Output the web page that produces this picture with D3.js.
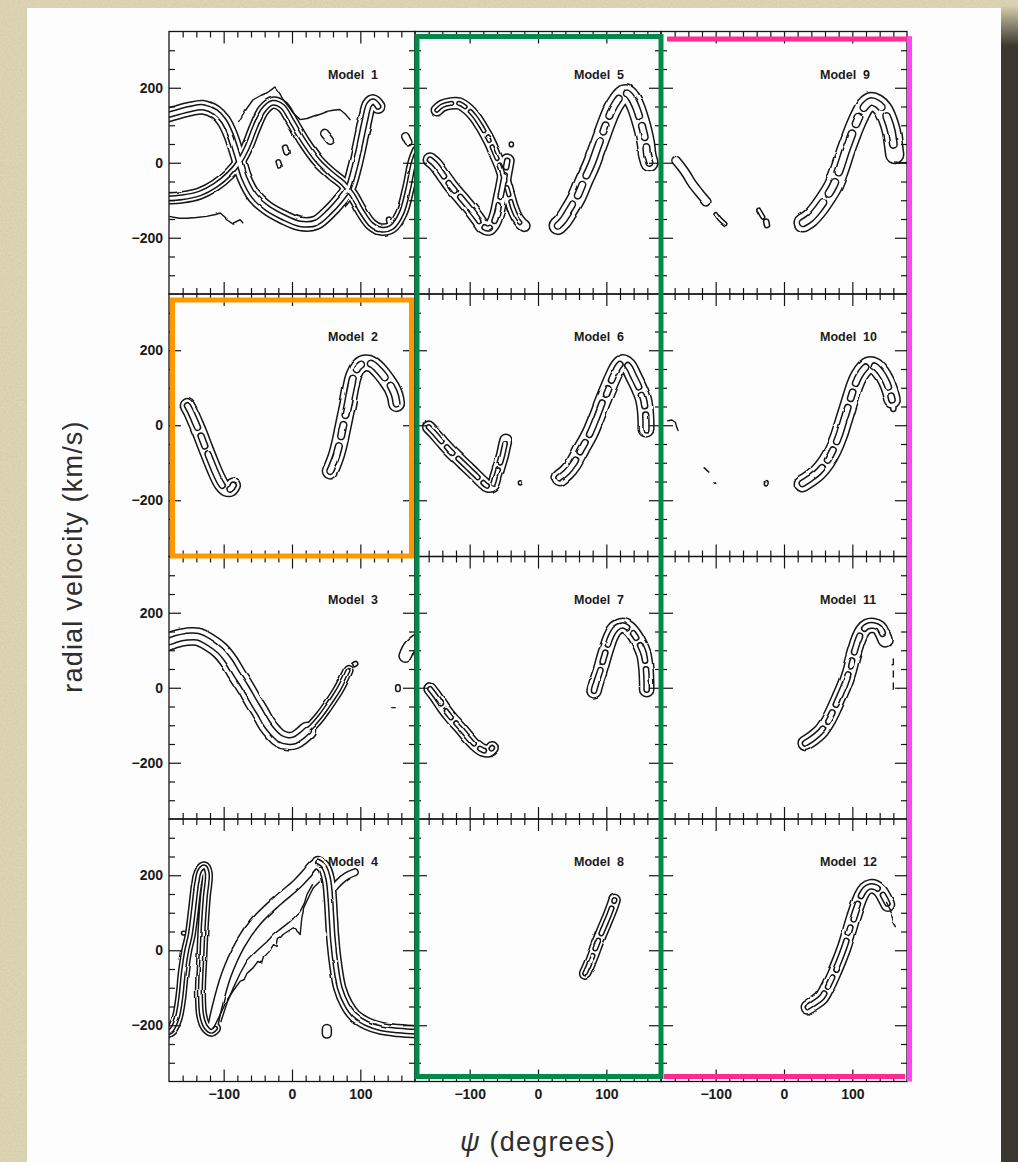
<!DOCTYPE html>
<html>
<head>
<meta charset="utf-8">
<script src="https://cdn.jsdelivr.net/npm/d3@7"></script>
<style>
  html, body { margin: 0; padding: 0; background: #ddd5b3; }
  svg { display: block; }
  text { font-family: "Liberation Sans", Arial, Helvetica, sans-serif; }
</style>
</head>
<body>
<svg id="fig" width="1018" height="1162"></svg>
<script>
// ---- axes ----
const psiDomain = [-180, 180];
const velDomain = [-350, 350];
const psiMajor = [-100, 0, 100];
const psiMinor = [-160, -140, -120, -80, -60, -40, -20, 20, 40, 60, 80, 120, 140, 160];
const velMajor = [-200, 0, 200];
const velMinor = [-300, -250, -150, -100, -50, 50, 100, 150, 250, 300];

const modelNames = ["Model 1", "Model 2", "Model 3", "Model 4",
                    "Model 5", "Model 6", "Model 7", "Model 8",
                    "Model 9", "Model 10", "Model 11", "Model 12"];

// ---- contour ridges: t = velocity width of the outer contour, i = width of the inner contour (km/s),
//      p = ridge line as [psi (deg), radial velocity (km/s)] ----
const ridges1 = [
  { t: 36, i: 14, p: [[-184,126],[-165,136],[-150,143],[-130,148],[-112,135],[-100,112],[-90,75],[-80,20],[-70,-40],[-55,-90],[-37,-120],[-13,-145],[12,-163],[35,-160],[55,-130],[70,-100],[82,-70],[92,-10],[100,55],[107,115],[113,155],[119,163],[126,150]] },
  { t: 30, i: 12, p: [[-184,-95],[-160,-92],[-135,-82],[-112,-60],[-92,-30],[-78,0],[-66,40],[-54,95],[-42,140],[-28,160],[-14,150],[0,110],[18,55],[38,5],[58,-30],[75,-55],[88,-85],[102,-130],[116,-165],[130,-178],[146,-172],[160,-135],[170,-70],[178,0],[184,30]] },
  { t: 14, i: 0, p: [[-10,40],[-8,28]] },
  { t: 12, i: 0, p: [[-20,2],[-18,-8]] },
  { t: 22, i: 0, p: [[48,78],[56,60]] },
  { t: 14, i: 0, p: [[142,-152],[144,-165]] },
  { t: 20, i: 0, p: [[166,70],[170,55]] }
];
const lines1 = [
  [[-78,110],[-68,140],[-57,168],[-45,180],[-37,186],[-30,195],[-25,202],[-18,185],[-13,168],[-5,150],[2,132],[12,115],[22,118],[31,124],[41,130],[51,137],[60,140],[70,142],[78,130],[85,115]],
  [[-180,-143],[-165,-148],[-154,-148],[-140,-146],[-125,-143],[-112,-138],[-105,-134],[-95,-150],[-86,-161],[-76,-152],[-72,-160]]
];

const ridges2 = [
  { t: 38, i: 16, p: [[-153,52],[-148,35],[-142,10],[-135,-20],[-127,-58],[-119,-95],[-111,-130],[-103,-158],[-96,-170],[-90,-170],[-86,-160]] },
  { t: 42, i: 18, p: [[56,-122],[60,-105],[65,-80],[70,-45],[74,-10],[78,25],[82,60],[86,100],[90,130],[97,155],[106,166],[117,163],[128,145],[138,122],[146,100],[151,78],[153,58]] }
];
const lines2 = [];

const ridges3 = [
  { t: 46, i: 18, p: [[-186,118],[-170,130],[-154,136],[-138,136],[-122,122],[-105,99],[-92,70],[-81,37],[-68,0],[-57,-35],[-46,-68],[-37,-97],[-27,-120],[-18,-135],[-6,-142],[4,-140],[14,-128],[22,-115]] },
  { t: 26, i: 10, p: [[18,-120],[30,-100],[41,-77],[51,-52],[60,-28],[68,-5],[75,19],[82,46]] },
  { t: 12, i: 0, p: [[91,62],[93,64]] },
  { t: 12, i: 0, p: [[155,2],[155,-4]] },
  { t: 34, i: 0, p: [[166,85],[172,108],[182,125]] }
];
const lines3 = [[[146,-53],[151,-53]]];

const ridges4 = [
  { t: 26, i: 10, p: [[-182,-220],[-176,-212],[-168,-180],[-163,-130],[-159,-60],[-154,0],[-149,40],[-144,110],[-140,170],[-135,212],[-128,222],[-124,205],[-127,140],[-130,60],[-132,-20],[-134,-110],[-132,-175],[-126,-205],[-118,-216],[-112,-208]] },
  { t: 26, i: 0, p: [[-116,-205],[-110,-154],[-96,-65],[-76,15],[-52,78],[-22,131],[7,176],[22,205],[33,228],[42,232]] },
  { t: 32, i: 12, p: [[38,234],[47,222],[53,190],[56,140],[58,80],[60,24],[64,-40],[70,-101],[80,-145],[92,-175],[110,-196],[130,-208],[155,-214],[185,-218]] },
  { t: 18, i: 0, p: [[58,158],[68,180],[80,198],[92,208]] },
  { t: 24, i: 0, p: [[51,-222],[51,-210]] },
  { t: 10, i: 0, p: [[-159,46],[-158,46]] }
];
const lines4 = [
  [[-115,-208],[-106,-175],[-96,-136],[-86,-108],[-76,-83],[-70,-78],[-66,-62],[-57,-47],[-50,-30],[-44,-34],[-42,-20],[-34,-5],[-27,15],[-22,10],[-20,28],[-13,42],[-5,52],[2,60],[8,50],[12,42],[14,80],[17,113],[24,140],[31,166],[41,184]],
  [[-104,-190],[-95,-140],[-86,-101],[-76,-62],[-66,-29],[-56,-10],[-47,6],[-37,22],[-27,42],[-18,55],[-8,69],[2,85],[12,104],[18,125],[22,149],[30,175]]
];

const ridges5 = [
  { t: 30, i: 10, p: [[-148,140],[-140,152],[-128,158],[-115,158],[-102,142],[-92,122],[-84,100],[-76,75],[-69,50],[-62,20],[-55,-10],[-50,-38],[-46,-63],[-41,-95],[-37,-120],[-31,-145],[-25,-160],[-20,-168]] },
  { t: 36, i: 14, p: [[-158,8],[-150,-5],[-138,-35],[-127,-63],[-112,-95],[-98,-126],[-88,-150],[-80,-170],[-72,-175],[-65,-160],[-60,-135],[-56,-100],[-52,-65],[-48,-25],[-45,5]] },
  { t: 11, i: 0, p: [[-39,48],[-39,50]] },
  { t: 46, i: 18, p: [[29,-168],[36,-155],[45,-130],[57,-92],[68,-45],[78,-5],[86,35],[93,70],[100,105],[108,140],[116,165],[124,182],[130,185],[137,172],[143,150],[149,118],[154,85],[158,50],[160,20],[163,0]] }
];
const lines5 = [];

const ridges6 = [
  { t: 32, i: 12, p: [[-160,-5],[-152,-20],[-140,-45],[-129,-67],[-116,-90],[-104,-111],[-92,-132],[-82,-150],[-74,-162],[-66,-160],[-61,-135],[-56,-105],[-52,-80],[-49,-55],[-47,-40]] },
  { t: 10, i: 0, p: [[-26,-154],[-26,-153]] },
  { t: 42, i: 16, p: [[32,-140],[42,-125],[52,-102],[64,-62],[76,-22],[86,22],[95,65],[104,105],[112,138],[118,158],[124,167],[132,158],[140,130],[148,100],[154,72],[157,40],[158,10],[158,-10]] }
];
const lines6 = [];

const ridges7 = [
  { t: 32, i: 12, p: [[-158,-3],[-150,-22],[-139,-52],[-127,-80],[-114,-106],[-102,-132],[-90,-155],[-80,-167],[-72,-168],[-67,-160]] },
  { t: 38, i: 14, p: [[82,-8],[86,18],[91,45],[96,78],[101,108],[107,138],[114,158],[123,166],[133,158],[142,138],[149,115],[155,88],[158,50],[159,15],[159,-5]] }
];
const lines7 = [];

const ridges8 = [
  { t: 30, i: 12, p: [[69,-62],[74,-42],[80,-14],[86,15],[92,42],[98,68],[104,94],[109,118],[112,134]] }
];
const lines8 = [];

const ridges9 = [
  { t: 22, i: 0, p: [[-158,6],[-150,-12],[-143,-30],[-135,-54],[-124,-80],[-113,-104]] },
  { t: 9, i: 0, p: [[-100,-135],[-94,-150],[-86,-163]] },
  { t: 10, i: 0, p: [[-37,-126],[-31,-145]] },
  { t: 14, i: 0, p: [[-26,-157],[-25,-166]] },
  { t: 48, i: 20, p: [[28,-160],[38,-148],[49,-126],[61,-95],[72,-62],[82,-15],[90,30],[97,65],[104,98],[112,130],[119,152],[127,163],[136,158],[145,142],[152,115],[157,85],[160,50],[162,22]] }
];
const lines9 = [[[162,2],[170,0],[180,0]]];

const ridges10 = [
  { t: 10, i: 0, p: [[-26,-154],[-26,-152]] },
  { t: 44, i: 17, p: [[27,-155],[38,-142],[50,-125],[62,-98],[72,-65],[80,-30],[87,10],[93,45],[99,80],[104,108],[110,132],[117,150],[124,160],[133,157],[142,140],[149,118],[154,95],[158,68]] },
  { t: 14, i: 0, p: [[160,48],[160,44]] }
];
const lines10 = [
  [[-170,12],[-164,14],[-159,8],[-157,-5],[-155,-14]],
  [[-117,-113],[-110,-125]],
  [[-101,-153],[-100,-155]]
];

const ridges11 = [
  { t: 38, i: 15, p: [[31,-148],[42,-135],[55,-114],[65,-86],[74,-53],[82,-20],[89,10],[95,42],[99,70],[104,102],[109,130],[115,152],[122,164],[131,166],[139,160],[144,145],[148,128]] }
];
const lines11 = [];
const dashed11 = [[[160,78],[160,-4],[168,-4]]];

const ridges12 = [
  { t: 36, i: 14, p: [[35,-152],[45,-140],[55,-126],[64,-97],[72,-66],[81,-27],[89,12],[95,48],[101,85],[107,118],[113,146],[119,163],[126,170],[134,168],[141,158],[147,140],[152,122]] }
];
const lines12 = [[[150,128],[155,110],[157,100],[160,85],[159,75],[163,63]]];

const panelRidges = [ridges1, ridges2, ridges3, ridges4, ridges5, ridges6, ridges7, ridges8, ridges9, ridges10, ridges11, ridges12];
const panelLines = [lines1, lines2, lines3, lines4, lines5, lines6, lines7, lines8, lines9, lines10, lines11, lines12];
const panelDashed = [[], [], [], [], [], [], [], [], [], [], dashed11, []];
const solidInner = new Set(["Model 1", "Model 3", "Model 4"]);

// ---- layout ----
const X0 = 169, Y0 = 31.5, PW = 246, PH = 262.5;
const ink = "#141414";

const svg = d3.select("#fig");
const defs = svg.append("defs");

// paper grain on the backdrop
const grain = defs.append("filter").attr("id", "grain").attr("x", 0).attr("y", 0).attr("width", 1).attr("height", 1);
grain.append("feTurbulence").attr("type", "fractalNoise").attr("baseFrequency", 0.55).attr("numOctaves", 3).attr("seed", 7);
grain.append("feColorMatrix").attr("type", "matrix")
  .attr("values", "0 0 0 0 0.55  0 0 0 0 0.50  0 0 0 0 0.36  0.7 0 0 0 -0.22");

// gentle waviness of the plotted contours, softened afterwards
const wobble = defs.append("filter").attr("id", "wobble")
  .attr("filterUnits", "userSpaceOnUse").attr("x", 0).attr("y", 0).attr("width", 1018).attr("height", 1162);
wobble.append("feTurbulence").attr("type", "fractalNoise").attr("baseFrequency", 0.055)
  .attr("numOctaves", 2).attr("seed", 11).attr("result", "noise");
wobble.append("feDisplacementMap").attr("in", "SourceGraphic").attr("in2", "noise")
  .attr("scale", 2.4).attr("xChannelSelector", "R").attr("yChannelSelector", "G").attr("result", "moved");
wobble.append("feGaussianBlur").attr("in", "moved").attr("stdDeviation", 0.45);

const shade = defs.append("linearGradient").attr("id", "shade")
  .attr("gradientUnits", "userSpaceOnUse").attr("x1", 0).attr("y1", 6).attr("x2", 0).attr("y2", 46);
shade.append("stop").attr("offset", 0).attr("stop-color", "#d6ceac");
shade.append("stop").attr("offset", 1).attr("stop-color", "#3a382f");

svg.append("rect").attr("width", 1018).attr("height", 1162).attr("fill", "#ddd5b3");
svg.append("rect").attr("width", 1018).attr("height", 1162).attr("filter", "url(#grain)");
svg.append("rect").attr("x", 1001).attr("y", 6).attr("width", 17).attr("height", 1156).attr("fill", "url(#shade)");
svg.append("rect").attr("x", 1001).attr("y", 46).attr("width", 17).attr("height", 1116).attr("fill", "#3a382f");
svg.append("rect").attr("x", 27).attr("y", 8).attr("width", 974).attr("height", 1154).attr("fill", "#fdfdfd");

const pxPerVel = PH / (velDomain[1] - velDomain[0]);
const lw = 1.5;

modelNames.forEach((name, idx) => {
  const col = Math.floor(idx / 4), row = idx % 4;
  const L = X0 + col * PW, T = Y0 + row * PH;
  const x = d3.scaleLinear().domain(psiDomain).range([L, L + PW]);
  const y = d3.scaleLinear().domain(velDomain).range([T + PH, T]);
  const g = svg.append("g").attr("class", "panel");

  const clipId = "clip" + idx;
  defs.append("clipPath").attr("id", clipId)
    .append("rect").attr("x", L).attr("y", T).attr("width", PW).attr("height", PH);
  const cg = g.append("g").attr("clip-path", `url(#${clipId})`)
    .append("g").attr("filter", "url(#wobble)");

  const smooth = d3.line().x(d => x(d[0])).y(d => y(d[1])).curve(d3.curveCatmullRom.alpha(0.5));
  const jagged = d3.line().x(d => x(d[0])).y(d => y(d[1]));

  // contour tubes: black then white strokes of each level, drawn level by level so crossings merge
  const ridges = panelRidges[idx];
  const beaded = !solidInner.has(name);
  const innerDash = r => {
    const wi = r.i * pxPerVel + lw;
    const gap = (wi + 1.8).toFixed(1);
    return beaded
      ? [wi * 3.2, gap, wi * 1.4, gap, wi * 4.5, gap, wi * 0.8, gap, wi * 2.4, gap]
          .map(v => typeof v === "number" ? v.toFixed(1) : v).join(" ")
      : null;
  };
  const levels = [
    { inner: false, color: ink,    width: r => r.t * pxPerVel + lw },
    { inner: false, color: "#fff", width: r => r.t * pxPerVel - lw },
    { inner: true,  color: ink,    width: r => r.i * pxPerVel + lw },
    { inner: true,  color: "#fff", width: r => r.i * pxPerVel - lw }
  ];
  levels.forEach(lev => {
    cg.append("g").selectAll("path")
      .data(ridges.filter(r => !lev.inner || r.i > 0))
      .join("path")
      .attr("d", r => smooth(r.p))
      .attr("fill", "none")
      .attr("stroke", lev.color)
      .attr("stroke-width", r => Math.max(0.1, lev.width(r)))
      .attr("stroke-linecap", "round")
      .attr("stroke-linejoin", "round")
      .attr("stroke-dasharray", r => lev.inner ? innerDash(r) : null);
  });

  cg.append("g").selectAll("path").data(panelLines[idx]).join("path")
    .attr("d", jagged).attr("fill", "none").attr("stroke", ink)
    .attr("stroke-width", 1.4).attr("stroke-linejoin", "round").attr("stroke-linecap", "round");

  cg.append("g").selectAll("path").data(panelDashed[idx]).join("path")
    .attr("d", jagged).attr("fill", "none").attr("stroke", ink)
    .attr("stroke-width", 1.4).attr("stroke-dasharray", "7 5");

  // frame and inward ticks on all four sides
  g.append("rect").attr("x", L).attr("y", T).attr("width", PW).attr("height", PH)
    .attr("fill", "none").attr("stroke", ink).attr("stroke-width", 1.3);

  const ticks = (axis, tx, ty) => g.append("g")
    .attr("transform", `translate(${tx},${ty})`)
    .call(axis)
    .call(s => s.select(".domain").remove())
    .call(s => s.selectAll("line").attr("stroke", ink).attr("stroke-width", 1.2));

  ticks(d3.axisBottom(x).tickValues(psiMinor).tickSize(-6).tickFormat(""), 0, T + PH);
  ticks(d3.axisBottom(x).tickValues(psiMajor).tickSize(-12).tickFormat(""), 0, T + PH);
  ticks(d3.axisTop(x).tickValues(psiMinor).tickSize(-6).tickFormat(""), 0, T);
  ticks(d3.axisTop(x).tickValues(psiMajor).tickSize(-12).tickFormat(""), 0, T);
  ticks(d3.axisLeft(y).tickValues(velMinor).tickSize(-6).tickFormat(""), L, 0);
  ticks(d3.axisLeft(y).tickValues(velMajor).tickSize(-12).tickFormat(""), L, 0);
  ticks(d3.axisRight(y).tickValues(velMinor).tickSize(-6).tickFormat(""), L + PW, 0);
  ticks(d3.axisRight(y).tickValues(velMajor).tickSize(-12).tickFormat(""), L + PW, 0);

  const styleLabels = s => s.selectAll("text")
    .attr("fill", "#1a1a1a").attr("font-size", 14).attr("font-weight", "bold")
    .attr("font-family", '"Liberation Sans", Arial, sans-serif');

  if (col === 0) {
    g.append("g").attr("transform", `translate(${L},0)`)
      .call(d3.axisLeft(y).tickValues(velMajor).tickSize(0).tickPadding(6))
      .call(s => s.select(".domain").remove())
      .call(styleLabels);
  }
  if (row === 3) {
    g.append("g").attr("transform", `translate(0,${T + PH})`)
      .call(d3.axisBottom(x).tickValues(psiMajor).tickSize(0).tickPadding(8))
      .call(s => s.select(".domain").remove())
      .call(styleLabels);
  }

  g.append("text")
    .attr("x", L + 159).attr("y", T + 47)
    .attr("font-size", 12.5).attr("font-weight", "bold")
    .attr("word-spacing", 3.5).attr("fill", "#1a1a1a")
    .text(name);
});

// axis titles
svg.append("text")
  .attr("transform", `translate(82,${Y0 + 2 * PH}) rotate(-90)`)
  .attr("text-anchor", "middle")
  .attr("font-size", 27).attr("letter-spacing", 1.2).attr("fill", "#2e2e2e")
  .text("radial velocity (km/s)");

const xTitle = svg.append("text")
  .attr("x", X0 + 1.5 * PW).attr("y", 1151)
  .attr("text-anchor", "middle")
  .attr("font-size", 27).attr("letter-spacing", 1.2).attr("fill", "#2e2e2e");
xTitle.append("tspan").attr("font-style", "italic").text("ψ");
xTitle.append("tspan").text(" (degrees)");

// highlight frames around groups of panels
const colX = c => X0 + c * PW;
const rowY = r => Y0 + r * PH;
const hl = svg.append("g").attr("fill", "none").attr("stroke-width", 5);
// orange: single panel (column 1, row 2)
hl.append("rect")
  .attr("x", colX(0) + 3.5).attr("y", rowY(1) + 6)
  .attr("width", PW - 7).attr("height", PH - 6.5)
  .attr("stroke", "#ff9700");
// green: whole middle column
hl.append("rect")
  .attr("x", colX(1) + 2).attr("y", rowY(0) + 5)
  .attr("width", PW - 2).attr("height", 4 * PH - 10)
  .attr("stroke", "#00894a");
// pink/magenta: right column, open on the left side
hl.append("line").attr("x1", colX(2) + 6).attr("x2", colX(3) + 5)
  .attr("y1", rowY(0) + 7.5).attr("y2", rowY(0) + 7.5).attr("stroke", "#ff2a92");
hl.append("line").attr("x1", colX(2) + 3).attr("x2", colX(3) - 2)
  .attr("y1", rowY(4) - 5).attr("y2", rowY(4) - 5).attr("stroke", "#ff2a92");
hl.append("line").attr("x1", colX(3) + 2.5).attr("x2", colX(3) + 2.5)
  .attr("y1", rowY(0) + 5).attr("y2", rowY(4)).attr("stroke", "#ff46f4");
</script>
</body>
</html>
